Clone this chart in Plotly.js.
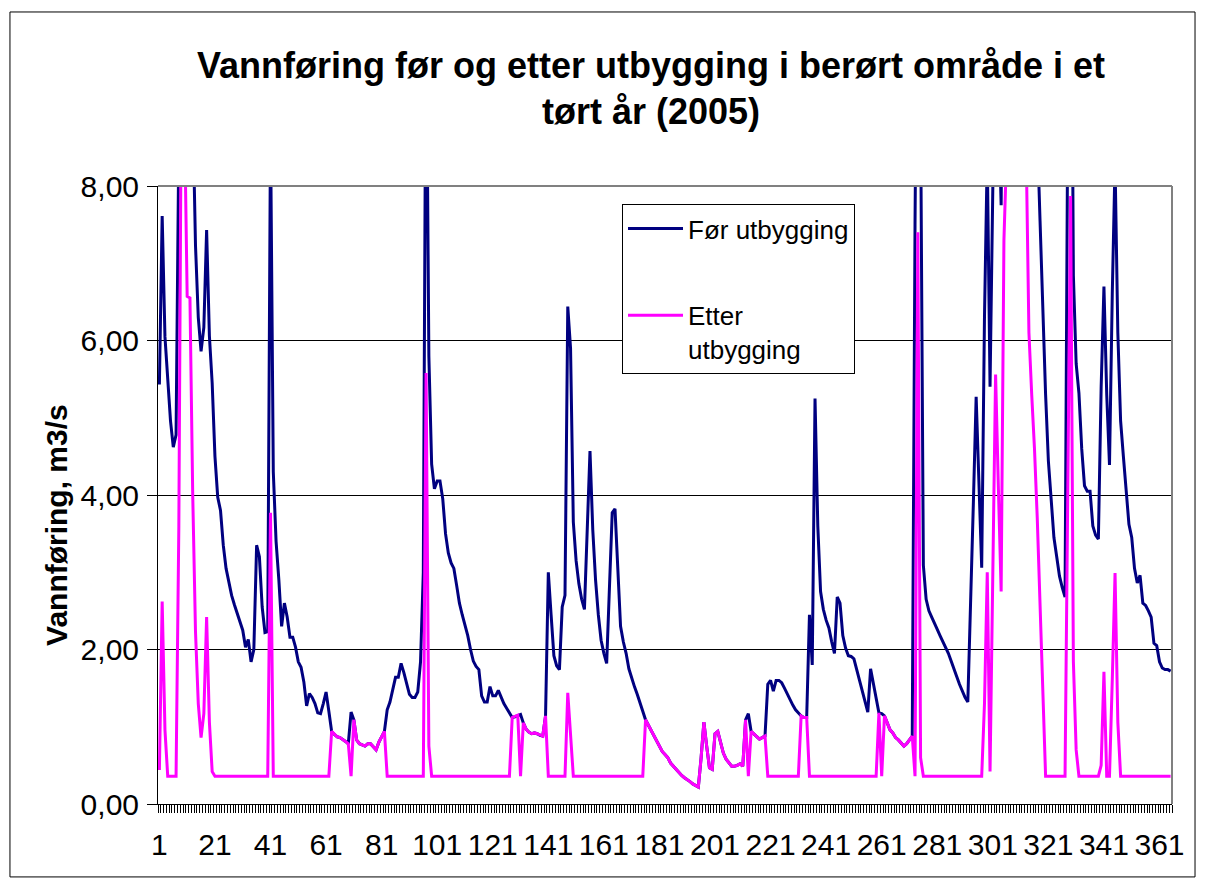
<!DOCTYPE html>
<html>
<head>
<meta charset="utf-8">
<script src="https://cdn.plot.ly/plotly-3.0.1.min.js"></script>
<style>
  html, body { margin: 0; padding: 0; background: #fff; }
  #chart { width: 1205px; height: 889px; }
</style>
</head>
<body>
<div id="chart"></div>
<script>
// Day numbers (category axis)
const days = Array.from({length: 365}, (_, i) => i + 1);

// Vannføring før utbygging (m3/s)
const forUtbygging = [
  5.43,7.61,6.05,5.48,4.96,4.62,4.78,8.6,15,14,
  11.57,11.55,9.0,7.23,6.3,5.86,6.17,7.43,6.06,5.45,
  4.5,3.97,3.8,3.35,3.05,2.85,2.7,2.58,2.47,2.38,
  2.25,2.03,2.13,1.84,2.0,3.35,3.2,2.55,2.22,2.23,
  8.77,4.3,3.4,2.9,2.3,2.6,2.42,2.16,2.16,2.03,
  1.84,1.77,1.58,1.27,1.43,1.38,1.30,1.18,1.17,1.30,
  1.45,1.2,0.94,0.90,0.87,0.86,0.84,0.81,0.78,1.19,
  1.09,0.83,0.78,0.76,0.75,0.78,0.78,0.74,0.70,0.80,
  0.88,0.94,1.22,1.32,1.48,1.64,1.64,1.82,1.70,1.55,
  1.42,1.38,1.38,1.45,1.84,3.0,10.6,5.8,4.4,4.08,
  4.18,4.18,3.95,3.5,3.25,3.12,3.05,2.83,2.6,2.45,
  2.33,2.18,2.0,1.85,1.78,1.74,1.40,1.32,1.32,1.52,
  1.40,1.40,1.47,1.38,1.30,1.24,1.17,1.12,1.13,1.15,
  1.16,1.05,0.97,0.93,0.91,0.92,0.91,0.89,0.88,1.14,
  3.0,2.45,1.92,1.79,1.74,2.55,2.70,6.44,5.9,3.65,
  3.15,2.85,2.65,2.52,3.55,4.57,3.55,2.9,2.45,2.12,
  1.95,1.82,2.8,3.77,3.82,3.0,2.3,2.1,1.95,1.75,
  1.62,1.52,1.42,1.32,1.2,1.09,1.02,0.96,0.9,0.82,
  0.76,0.68,0.64,0.60,0.53,0.49,0.44,0.40,0.37,0.34,
  0.32,0.29,0.26,0.24,0.22,0.6,1.06,0.75,0.47,0.45,
  0.91,0.94,0.8,0.66,0.58,0.53,0.49,0.49,0.5,0.52,
  0.49,1.09,1.17,0.94,0.91,0.88,0.84,0.86,0.88,1.55,
  1.6,1.46,1.6,1.6,1.57,1.5,1.42,1.35,1.28,1.22,
  1.18,1.14,1.12,1.12,2.45,1.8,5.25,3.6,2.75,2.52,
  2.38,2.28,2.1,1.95,2.68,2.6,2.18,2.02,1.92,1.91,
  1.88,1.74,1.6,1.45,1.3,1.19,1.75,1.55,1.35,1.18,
  1.17,1.14,1.05,0.96,0.92,0.86,0.83,0.79,0.75,0.78,
  0.83,0.88,7.5,12.4,9.0,3.09,2.65,2.5,2.42,2.35,
  2.26,2.18,2.11,2.03,1.95,1.85,1.76,1.65,1.55,1.46,
  1.38,1.32,2.5,3.9,5.27,4.1,3.06,6.3,8.4,5.4,
  8.2,10.56,9.1,7.75,12.3,14,15,16,17,16,
  15,14,13.5,11.1,10.3,9.6,8.7,7.55,6.4,5.3,
  4.44,3.9,3.45,3.2,2.95,2.8,2.68,9.1,12.87,6.84,
  5.7,5.32,4.6,4.12,4.05,4.05,3.6,3.48,3.43,5.4,
  6.7,5.3,4.39,6.6,8.3,6.1,4.96,4.5,4.0,3.62,
  3.45,3.05,2.86,2.96,2.6,2.57,2.5,2.42,2.08,2.05,
  1.84,1.76,1.74,1.74,1.72
];

// Vannføring etter utbygging (m3/s)
const etterUtbygging = [
  0.44,2.62,0.96,0.36,0.36,0.36,0.36,3.6,10,9,
  6.57,6.55,4.0,2.23,1.3,0.86,1.17,2.42,1.06,0.42,
  0.36,0.36,0.36,0.36,0.36,0.36,0.36,0.36,0.36,0.36,
  0.36,0.36,0.36,0.36,0.36,0.36,0.36,0.36,0.36,0.36,
  3.77,0.36,0.36,0.36,0.36,0.36,0.36,0.36,0.36,0.36,
  0.36,0.36,0.36,0.36,0.36,0.36,0.36,0.36,0.36,0.36,
  0.36,0.36,0.94,0.90,0.87,0.86,0.84,0.81,0.78,0.36,
  1.09,0.83,0.78,0.76,0.75,0.78,0.78,0.74,0.70,0.80,
  0.88,0.94,0.36,0.36,0.36,0.36,0.36,0.36,0.36,0.36,
  0.36,0.36,0.36,0.36,0.36,0.36,5.58,0.75,0.36,0.36,
  0.36,0.36,0.36,0.36,0.36,0.36,0.36,0.36,0.36,0.36,
  0.36,0.36,0.36,0.36,0.36,0.36,0.36,0.36,0.36,0.36,
  0.36,0.36,0.36,0.36,0.36,0.36,0.36,1.12,1.13,1.15,
  0.36,1.05,0.97,0.93,0.91,0.92,0.91,0.89,0.88,1.14,
  0.36,0.36,0.36,0.36,0.36,0.36,0.36,1.44,0.9,0.36,
  0.36,0.36,0.36,0.36,0.36,0.36,0.36,0.36,0.36,0.36,
  0.36,0.36,0.36,0.36,0.36,0.36,0.36,0.36,0.36,0.36,
  0.36,0.36,0.36,0.36,0.36,1.09,1.02,0.96,0.9,0.82,
  0.76,0.68,0.64,0.60,0.53,0.49,0.44,0.40,0.37,0.34,
  0.32,0.29,0.26,0.24,0.22,0.6,1.06,0.75,0.47,0.45,
  0.91,0.94,0.8,0.66,0.58,0.53,0.49,0.49,0.5,0.52,
  0.49,1.09,0.36,0.94,0.91,0.88,0.84,0.86,0.88,0.36,
  0.36,0.36,0.36,0.36,0.36,0.36,0.36,0.36,0.36,0.36,
  0.36,1.14,1.12,1.12,0.36,0.36,0.36,0.36,0.36,0.36,
  0.36,0.36,0.36,0.36,0.36,0.36,0.36,0.36,0.36,0.36,
  0.36,0.36,0.36,0.36,0.36,0.36,0.36,0.36,0.36,1.18,
  0.36,1.14,1.05,0.96,0.92,0.86,0.83,0.79,0.75,0.78,
  0.83,0.88,0.36,7.4,0.6,0.36,0.36,0.36,0.36,0.36,
  0.36,0.36,0.36,0.36,0.36,0.36,0.36,0.36,0.36,0.36,
  0.36,0.36,0.36,0.36,0.36,0.36,0.36,1.3,3.0,0.42,
  3.2,5.56,4.1,2.75,7.3,9,10,11,12,11,
  10,9,8.5,6.1,5.3,4.6,3.7,2.55,1.4,0.36,
  0.36,0.36,0.36,0.36,0.36,0.36,0.36,4.1,7.87,1.84,
  0.70,0.36,0.36,0.36,0.36,0.36,0.36,0.36,0.36,0.5,
  1.71,0.36,0.36,1.6,2.99,1.06,0.36,0.36,0.36,0.36,
  0.36,0.36,0.36,0.36,0.36,0.36,0.36,0.36,0.36,0.36,
  0.36,0.36,0.36,0.36,0.36
];

const xTickVals = [1,21,41,61,81,101,121,141,161,181,201,221,241,261,281,301,321,341,361];
const xTickText = ['1','21','41','61','81','101','121','141','161','181','201','221','241','261','281','301','321','341','361'];
const seriesNames = ['Før utbygging', 'Etter<br>utbygging'];
const chartTitle = 'Vannføring før og etter utbygging i berørt område i et<br>tørt år (2005)';
const yTitle = 'Vannføring, m3/s';

const FONT = 'Liberation Sans, Arial, Helvetica, sans-serif';

const traces = [
  {
    x: days, y: forUtbygging, type: 'scatter', mode: 'lines',
    name: seriesNames[0], legendgroup: 'a',
    line: {color: '#000080', width: 3}
  },
  {
    x: days, y: etterUtbygging, type: 'scatter', mode: 'lines',
    name: seriesNames[1], legendgroup: 'b',
    line: {color: '#FF00FF', width: 3}
  }
];

const layout = {
  width: 1205, height: 889,
  margin: {l: 158, r: 33, t: 186, b: 85, pad: 0},
  paper_bgcolor: '#ffffff', plot_bgcolor: '#ffffff',
  separators: ',.',
  font: {family: FONT, color: '#000'},
  title: {
    text: chartTitle,
    font: {family: FONT, size: 36, color: '#000', weight: 'bold'},
    xref: 'paper', x: 0.4862, xanchor: 'center',
    yref: 'container', y: 0.9128, yanchor: 'middle'
  },
  showlegend: true,
  legend: {
    x: 0.4576, y: 0.9709, xanchor: 'left', yanchor: 'top',
    bgcolor: '#ffffff', bordercolor: '#000', borderwidth: 1,
    font: {family: FONT, size: 26, color: '#000'},
    tracegroupgap: 50, valign: 'top', itemwidth: 55,
    traceorder: 'grouped'
  },
  xaxis: {
    range: [0.5, 365.5], type: 'linear',
    tickmode: 'array', tickvals: xTickVals, ticktext: xTickText,
    ticks: 'outside', ticklen: 8, tickcolor: 'rgba(0,0,0,0)',
    tickfont: {family: FONT, size: 30, color: '#000'},
    ticklabelstandoff: 6,
    showline: true, linecolor: '#000', linewidth: 1,
    showgrid: false, zeroline: false,
    minor: {ticks: 'outside', ticklen: 8, dtick: 1, tick0: 0.5, tickcolor: '#000', tickwidth: 1, showgrid: false}
  },
  yaxis: {
    range: [0, 8], tick0: 0, dtick: 2, tickformat: '.2f',
    ticks: 'outside', ticklen: 10, tickcolor: '#000', tickwidth: 1,
    tickfont: {family: FONT, size: 30, color: '#000'},
    ticklabelstandoff: 2,
    showline: true, linecolor: '#000', linewidth: 1,
    showgrid: true, gridcolor: '#000', gridwidth: 1, zeroline: false
  },
  annotations: [
    {
      text: yTitle, textangle: -90, showarrow: false,
      xref: 'paper', yref: 'paper', x: -0.0996, y: 0.4515,
      xanchor: 'center', yanchor: 'middle',
      font: {family: FONT, size: 30, color: '#000', weight: 'bold'}
    }
  ],
  shapes: [
    {type: 'line', xref: 'paper', yref: 'paper', x0: 0, x1: 1, y0: 1, y1: 1, line: {color: '#808080', width: 2}},
    {type: 'line', xref: 'paper', yref: 'paper', x0: 1, x1: 1, y0: 0, y1: 1, line: {color: '#808080', width: 2}},
    {type: 'rect', xref: 'paper', yref: 'paper', x0: -0.146, x1: 1.0227, y0: -0.118, y1: 1.2816, line: {color: '#000', width: 1}, fillcolor: 'rgba(0,0,0,0)', layer: 'below'}
  ]
};

Plotly.newPlot('chart', traces, layout, {displayModeBar: false, staticPlot: true});
</script>
</body>
</html>
